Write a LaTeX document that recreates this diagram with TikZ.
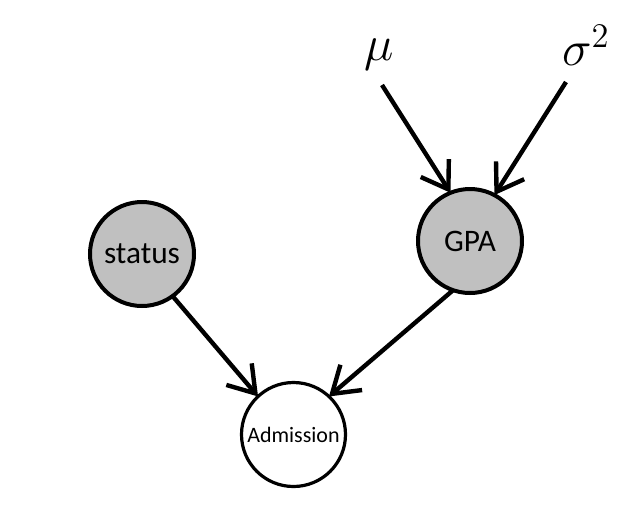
\documentclass[tikz,border=0pt]{standalone}
\usepackage{fontspec}
\setmainfont{Carlito}
\usetikzlibrary{arrows.meta}
\definecolor{obsgray}{RGB}{192,192,192}
\newcommand{\bigmath}[1]{\scalebox{1.8}{\fontsize{20.74}{24}\selectfont$#1$}}
\begin{document}
\begin{tikzpicture}[x=0.75pt,y=-0.75pt,
  obsnode/.style={circle, draw, line width=3pt, fill=obsgray, minimum size=78pt, inner sep=0pt, outer sep=0pt, font=\fontsize{23.5}{26}\selectfont},
  latnode/.style={circle, draw, line width=2.4pt, fill=white, minimum size=78pt, inner sep=0pt, outer sep=0pt, font=\fontsize{16.5}{19}\selectfont},
  parnode/.style={inner sep=0pt},
  arr/.style={line width=3.3pt, -{Straight Barb[length=19pt,width=25pt]}}]
\useasboundingbox (0,0) rectangle (622,512);
\node[obsnode] (status) at (142,254) {status};
\node[obsnode] (gpa) at (470,241) {GPA};
\node[latnode] (adm) at (293.5,434.5) {Admission};
\node[parnode] (mu) at (379,55) {\bigmath{\mu}};
\node[parnode] (sig) at (586,45) {\bigmath{\sigma^2}};
\coordinate (mustart) at (382,85);
\coordinate (sigstart) at (566,82);
\draw[arr] (mustart) -- (gpa.112);
\draw[arr] (sigstart) -- (gpa.62);
\draw[arr] (status.-54) -- (adm.133);
\draw[arr] (gpa.-109) -- (adm.47);
\end{tikzpicture}
\end{document}
